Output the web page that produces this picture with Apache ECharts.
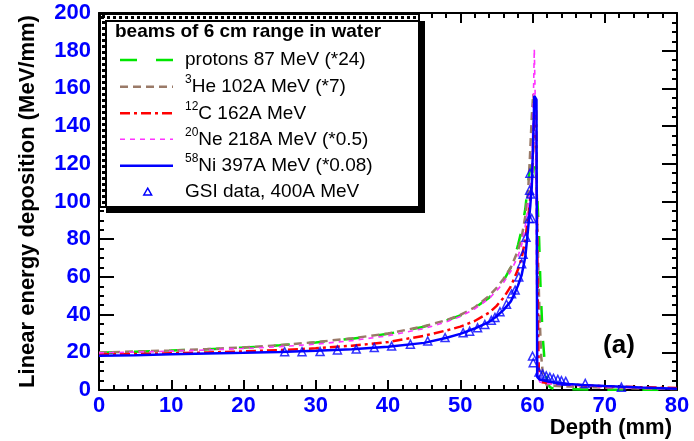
<!DOCTYPE html>
<html>
<head>
<meta charset="utf-8">
<script src="https://cdn.jsdelivr.net/npm/echarts@6/dist/echarts.min.js"></script>
<style>
  html, body { margin: 0; padding: 0; background: #fff; }
  #chart { width: 694px; height: 441px; }
</style>
</head>
<body>
<div id="chart"></div>
<script>
// Depth-dose (linear energy deposition) curves for beams with a 6 cm range in water.
const xTicks = [0, 10, 20, 30, 40, 50, 60, 70, 80];
const yTicks = [0, 20, 40, 60, 80, 100, 120, 140, 160, 180, 200];

// protons 87 MeV (scaled *24)
const protonDepth = [0, 5, 10, 15, 20, 25, 30, 35, 40, 45, 48, 50, 52, 54, 55, 56, 57, 57.5, 58, 58.5, 59, 59.4, 59.7, 60.0, 60.3, 60.6, 60.9, 61.1, 61.4, 61.7, 62.0, 62.4, 63, 70, 80];
const protonValue = [19.8, 20.3, 20.9, 21.6, 22.5, 23.7, 25.2, 27.2, 29.8, 33.6, 36.8, 39.5, 43.5, 49, 53, 58, 65, 70, 77, 85, 96, 110, 119, 124, 122, 108, 82, 56, 29, 14, 5, 1.5, 0.5, 0.2, 0];

// 3He 102A MeV (scaled *7)
const heliumDepth = [0, 5, 10, 15, 20, 25, 30, 35, 40, 45, 48, 50, 52, 54, 55, 56, 57, 58, 58.5, 59, 59.4, 59.65, 59.9, 60.1, 60.3, 60.5, 60.7, 60.9, 61.0, 61.2, 61.5, 62, 65, 70, 75, 80];
const heliumValue = [19.9, 20.4, 21.0, 21.7, 22.6, 23.8, 25.4, 27.4, 30.0, 33.8, 37.0, 39.8, 43.8, 50, 54, 59, 65, 74, 81, 92, 106, 124, 145, 157, 150, 122, 82, 50, 38, 18, 6, 2.5, 1.8, 1.2, 0.8, 0.5];

// 12C 162A MeV
const carbonDepth = [0, 5, 10, 15, 20, 25, 30, 35, 40, 45, 48, 50, 52, 54, 55, 56, 57, 58, 58.5, 59, 59.5, 59.9, 60.1, 60.3, 60.5, 60.65, 60.8, 60.9, 61.2, 62, 65, 70, 75, 80];
const carbonValue = [18.9, 19.1, 19.5, 19.9, 20.5, 21.2, 22.1, 23.5, 25.4, 28.8, 31.5, 33.6, 36.6, 41, 44.5, 49, 55, 64, 70, 80, 95, 110, 130, 154, 150, 80, 25, 6, 4.2, 3.8, 3, 2, 1.5, 1];

// 20Ne 218A MeV (scaled *0.5)
const neonDepth = [0, 5, 10, 15, 20, 25, 30, 35, 40, 45, 48, 50, 52, 54, 55, 56, 57, 58, 58.5, 59, 59.5, 59.9, 60.1, 60.25, 60.4, 60.55, 60.7, 61, 62, 65, 70, 75, 80];
const neonValue = [19.7, 20.1, 20.6, 21.2, 22.0, 23.0, 24.3, 26.2, 28.8, 32.6, 36, 39, 43, 48.5, 52.5, 57, 63, 71, 77, 87, 100, 115, 150, 181, 150, 60, 10, 4.2, 3.4, 2.5, 1.6, 1.0, 0.7];

// 58Ni 397A MeV (scaled *0.08)
const nickelDepth = [0, 5, 10, 15, 20, 25, 30, 35, 40, 45, 48, 50, 52, 54, 55, 56, 57, 57.5, 58, 58.5, 59, 59.4, 59.7, 59.9, 60.1, 60.25, 60.55, 60.65, 61, 62, 63, 65, 67, 70, 75, 80];
const nickelValue = [18.2, 18.5, 18.9, 19.3, 19.7, 20.2, 20.8, 21.6, 22.9, 25.0, 27.6, 29.8, 32.6, 36.2, 39, 42.5, 47, 51, 55.5, 61, 70.5, 86, 98, 108, 133, 156, 154, 7, 5.5, 4.6, 4, 3.2, 2.7, 2.1, 1.3, 0.7];

// GSI measurement, 400A MeV
const gsiDepth = [25.7, 28.1, 30.6, 33.0, 35.6, 38.1, 40.5, 43.1, 45.5, 47.9, 50.4, 51.3, 52.4, 53.4, 54.3, 54.8, 55.5, 56.4, 57.1, 57.6, 58.1, 58.5, 58.7, 59.1, 59.55, 59.9, 59.6, 59.75, 59.65, 60.0, 60.1, 60.9, 61.4, 61.9, 62.4, 62.9, 63.5, 64.0, 64.6, 67.3, 72.3];
const gsiValue = [20.3, 20.3, 20.4, 21.2, 21.7, 22.5, 23.3, 24.3, 26.0, 27.8, 30.4, 31.2, 33, 34.8, 37, 38.5, 41.5, 45.5, 51, 53, 60, 67, 72, 81, 91, 91, 106, 104, 115, 18, 14.5, 9.5, 8.5, 7.5, 6.8, 6.2, 5.6, 5.0, 4.6, 3.5, 1.5];

const pairs = (xs, ys) => xs.map((x, i) => [x, ys[i]]);

const FONT = 'Liberation Sans, Arial, Helvetica, sans-serif';
const BLUE = '#0000ff';

function axisCommon(isX, showLabels) {
  return {
    type: 'value',
    min: isX ? xTicks[0] : yTicks[0],
    max: isX ? xTicks[xTicks.length - 1] : yTicks[yTicks.length - 1],
    interval: isX ? 10 : 20,
    axisLine: { show: true, onZero: false, lineStyle: { color: '#000', width: 2 } },
    axisTick: { show: true, inside: true, length: isX ? 10 : 15, lineStyle: { color: '#000', width: 2 } },
    minorTick: { show: true, splitNumber: isX ? 5 : 4, length: 5, lineStyle: { color: '#000', width: 2 } },
    splitLine: { show: false },
    minorSplitLine: { show: false },
    axisLabel: {
      show: showLabels,
      showMinLabel: true,
      showMaxLabel: true,
      color: BLUE,
      fontWeight: 'bold',
      fontSize: 22,
      fontFamily: FONT,
      margin: isX ? 5 : 8
    }
  };
}

const xBottom = axisCommon(true, true);
xBottom.position = 'bottom';
const xTop = axisCommon(true, false);
xTop.position = 'top';

const yLeft = axisCommon(false, true);
yLeft.position = 'left';
yLeft.name = 'Linear energy deposition (MeV/mm)';
yLeft.nameLocation = 'middle';
yLeft.nameGap = 60;
yLeft.nameTextStyle = { color: '#000', fontWeight: 'bold', fontSize: 22, fontFamily: FONT };
const yRight = axisCommon(false, false);
yRight.position = 'right';

function curve(name, xs, ys, color, width, dash) {
  return {
    name: name,
    type: 'line',
    data: pairs(xs, ys),
    xAxisIndex: 0,
    yAxisIndex: 0,
    showSymbol: false,
    symbol: 'none',
    smooth: false,
    clip: true,
    lineStyle: { color: color, width: width, type: dash },
    emphasis: { disabled: true }
  };
}

const GREEN = '#00e600';
const BROWN = '#9a7a68';
const RED = '#ff0000';
const MAGENTA = '#ff33ff';

const series = [
  curve('protons', protonDepth, protonValue, GREEN, 2.5, [16, 19]),
  curve('3He', heliumDepth, heliumValue, BROWN, 2.5, [8, 5]),
  curve('12C', carbonDepth, carbonValue, RED, 2.5, [10, 4, 3, 4]),
  curve('20Ne', neonDepth, neonValue, MAGENTA, 1.6, [5, 5]),
  curve('58Ni', nickelDepth, nickelValue, BLUE, 2.5, 'solid'),
  {
    name: 'GSI',
    type: 'scatter',
    data: pairs(gsiDepth, gsiValue),
    symbol: 'triangle',
    symbolSize: 8,
    itemStyle: { color: 'rgba(255,255,255,0)', borderColor: BLUE, borderWidth: 1.5 },
    emphasis: { disabled: true },
    z: 5
  }
];

// Legend panel, drawn as a framed box with a drop shadow
const legendX = 120, legendX2 = 173, textX = 185;
const rowY = [60, 86.7, 113.3, 139.3, 165.7, 191.7];
const rich = {
  n: { fontSize: 19, fontFamily: FONT, color: '#000', lineHeight: 26 },
  sup: { fontSize: 12, fontFamily: FONT, color: '#000', verticalAlign: 'top' }
};
function legendText(y, text) {
  return {
    type: 'text', x: textX, y: y, z: 12,
    style: { text: text, rich: rich, textVerticalAlign: 'middle', textAlign: 'left' }
  };
}
function legendLine(y, color, width, dash) {
  return {
    type: 'line', z: 12,
    shape: { x1: legendX, y1: y, x2: legendX2, y2: y },
    style: { stroke: color, lineWidth: width, lineDash: dash }
  };
}

const graphic = [
  { type: 'rect', z: 10, shape: { x: 106, y: 21, width: 319, height: 192 }, style: { fill: '#000' } },
  { type: 'rect', z: 11, shape: { x: 100, y: 14, width: 319, height: 193 }, style: { fill: '#fff', stroke: '#000', lineWidth: 2 } },
  { type: 'line', z: 11, shape: { x1: 103.5, y1: 15, x2: 103.5, y2: 207 }, style: { stroke: '#000', lineWidth: 3, lineDash: [3, 3] } },
  { type: 'line', z: 11, shape: { x1: 101, y1: 17.5, x2: 419, y2: 17.5 }, style: { stroke: '#000', lineWidth: 3, lineDash: [3, 3] } },
  { type: 'rect', z: 11, shape: { x: 106, y: 21, width: 313, height: 186 }, style: { fill: 'none', stroke: '#000', lineWidth: 2 } },
  {
    type: 'text', x: 115, y: 31.7, z: 12,
    style: { text: 'beams of 6 cm range in water', font: 'bold 19px ' + FONT, fill: '#000', textVerticalAlign: 'middle' }
  },
  legendLine(rowY[0], GREEN, 2.5, [17, 19]),
  legendLine(rowY[1], BROWN, 2.5, [8, 5]),
  legendLine(rowY[2], RED, 2.5, [10, 4, 3, 4]),
  legendLine(rowY[3], MAGENTA, 1.6, [5, 5]),
  legendLine(rowY[4], BLUE, 2.5, null),
  {
    type: 'polygon', z: 12,
    shape: { points: [[147.7, 188.2], [151.6, 195], [143.8, 195]] },
    style: { fill: 'none', stroke: BLUE, lineWidth: 1.5 }
  },
  legendText(rowY[0], '{n|protons 87 MeV (*24)}'),
  legendText(rowY[1], '{sup|3}{n|He 102A MeV (*7)}'),
  legendText(rowY[2], '{sup|12}{n|C 162A MeV}'),
  legendText(rowY[3], '{sup|20}{n|Ne 218A MeV (*0.5)}'),
  legendText(rowY[4], '{sup|58}{n|Ni 397A MeV (*0.08)}'),
  legendText(rowY[5], '{n|GSI data, 400A MeV}'),
  {
    type: 'text', x: 619, y: 346, z: 12,
    style: { text: '(a)', font: 'bold 26px ' + FONT, fill: '#000', textAlign: 'center', textVerticalAlign: 'middle' }
  },
  {
    type: 'text', x: 672, y: 428, z: 12,
    style: { text: 'Depth (mm)', font: 'bold 22px ' + FONT, fill: '#000', textAlign: 'right', textVerticalAlign: 'middle' }
  }
];

const chart = echarts.init(document.getElementById('chart'), null, { renderer: 'canvas' });
chart.setOption({
  animation: false,
  backgroundColor: '#fff',
  grid: { left: 99, right: 17, top: 13, bottom: 51, containLabel: false },
  xAxis: [xBottom, xTop],
  yAxis: [yLeft, yRight],
  series: series,
  graphic: graphic
});
</script>
</body>
</html>
